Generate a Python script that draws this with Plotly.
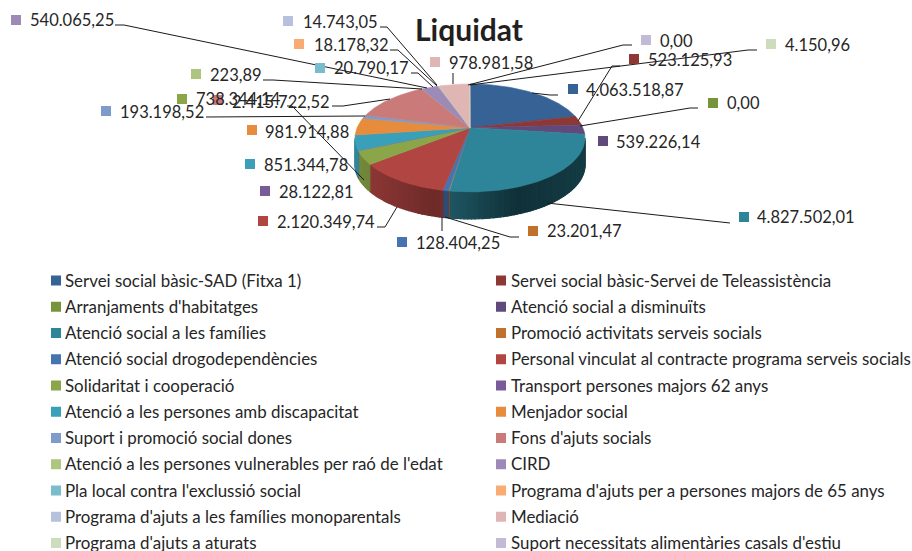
import numpy as np
import plotly.graph_objects as go

title = "Liquidat"
categories = [
    "Servei social bàsic-SAD (Fitxa 1)", "Servei social bàsic-Servei de Teleassistència",
    "Arranjaments d'habitatges", "Atenció social a disminuïts",
    "Atenció social a les famílies", "Promoció activitats serveis socials",
    "Atenció social drogodependències", "Personal vinculat al contracte programa serveis socials",
    "Solidaritat i cooperació", "Transport persones majors 62 anys",
    "Atenció a les persones amb discapacitat", "Menjador social",
    "Suport i promoció social dones", "Fons d'ajuts socials",
    "Atenció a les persones vulnerables per raó de l'edat", "CIRD",
    "Pla local contra l'exclussió social", "Programa d'ajuts per a persones majors de 65 anys",
    "Programa d'ajuts a les famílies monoparentals", "Mediació",
    "Programa d'ajuts a aturats", "Suport necessitats alimentàries casals d'estiu",
]
values = [
    4063518.87, 523125.93, 0.00, 539226.14, 4827502.01, 23201.47, 128404.25, 2120349.74,
    738344.14, 28122.81, 851344.78, 981914.88, 193198.52, 2415722.52, 223.89, 540065.25,
    20790.17, 18178.32, 14743.05, 978981.58, 4150.96, 0.00,
]
colors = [
    "#376296", "#8e3836", "#77933c", "#604a7b", "#2e8599", "#c0722c", "#4674b0", "#b04542",
    "#8aa648", "#7a5b9a", "#3aa0ba", "#e78c3c", "#7f9bc9", "#c97a79", "#aec57f", "#9d8ab7",
    "#78bccd", "#f9ab74", "#b6c1de", "#e0b6b5", "#cddcbc", "#c3bbd5",
]

# Layout (pixels): label anchors, one per category
swatch_xy = [
    (573, 89), (634, 59), (713, 103), (603, 141), (744, 217), (533, 231), (402, 242), (263, 221),
    (182, 99), (265, 191), (250, 164), (252, 130), (106, 111), (218, 100), (196, 74), (16, 20),
    (320, 68), (299, 44), (288, 21), (435, 62), (771, 44), (646, 40),
]
label_xy = [
    (586, 90), (648, 60), (727, 103), (616, 142), (757, 217), (547, 231), (416, 243), (277, 222),
    (196, 99), (279, 192), (264, 165), (265, 132), (120, 112), (232, 102), (210, 75), (30, 20),
    (334, 68), (314, 45), (303, 22), (449, 63), (785, 45), (660, 41),
]
leaders = [
    [(532, 93), (550, 95), (558, 95)],
    [(578, 121), (612, 66), (620, 66)],
    [(580, 126), (690, 108), (698, 108)],
    [(547, 203), (725, 223), (730, 223)],
    [(445, 217), (510, 237), (519, 237)],
    [(442, 217), (442, 231)],
    [(377, 227), (385, 227), (397, 207)],
    [(287, 106), (292, 106), (364, 180)],
    [(206, 117), (365, 116)],
    [(332, 106), (343, 106), (390, 99)],
    [(263, 80), (273, 80), (422, 89)],
    [(115, 25), (124, 25), (427, 88)],
    [(411, 73), (418, 73), (433, 87)],
    [(390, 50), (398, 50), (437, 86)],
    [(380, 27), (387, 27), (437, 85)],
    [(453, 73), (453, 84)],
    [(470, 85), (748, 50), (757, 50)],
    [(468, 85), (623, 45), (632, 45)],
]

FONT = "Lato"
TEXT = "#262626"
APEX_X, APEX_Y = 470.0, 127.7
C, A, K = 112.9, 52.0, -0.19
DEPTH = 27.0


def rim(theta):
    u, v = np.sin(theta), -np.cos(theta)
    w = 1 + K * v
    return APEX_X + C * u / w, APEX_Y + A * v / w


def fmt(v):
    return f"{v:,.2f}".replace(",", "#").replace(".", ",").replace("#", ".")


def shade(hex_color, f):
    r, g, b = (int(hex_color[i:i + 2], 16) for i in (1, 3, 5))
    return f"rgb({int(r * f)},{int(g * f)},{int(b * f)})"


def wall_factor(x):
    return float(np.interp(x, [355, 370, 435, 445, 515, 585], [0.85, 0.80, 0.62, 0.67, 0.37, 0.45]))


fig = go.Figure()


def poly(xs, ys, color, width=0.6):
    fig.add_trace(go.Scatter(
        x=list(xs), y=list(ys), mode="lines", fill="toself", fillcolor=color,
        line=dict(color=color, width=width), hoverinfo="skip", showlegend=False,
    ))


total = sum(values)
edges = np.concatenate([[0.0], np.cumsum(values)]) / total * 2 * np.pi
vis_lo = np.arccos(-0.19)
vis_hi = 2 * np.pi - vis_lo

# Side wall (only the part facing the viewer), drawn as a fine shaded band
for i, col in enumerate(colors):
    lo, hi = max(edges[i], vis_lo), min(edges[i + 1], vis_hi)
    if hi <= lo:
        continue
    n = max(1, int(np.degrees(hi - lo) / 1.5))
    steps = np.linspace(lo, hi, n + 1)
    for a, b in zip(steps[:-1], steps[1:]):
        t = np.linspace(a, b, 3)
        x, y = rim(t)
        c = shade(col, wall_factor(x.mean()))
        poly(np.r_[x, x[::-1], x[0]], np.r_[y, y[::-1] + DEPTH, y[0]], c, width=1.2)

# Top face
for i, col in enumerate(colors):
    lo, hi = edges[i], edges[i + 1]
    if hi <= lo:
        continue
    t = np.linspace(lo, hi, max(3, int(np.degrees(hi - lo)) + 2))
    x, y = rim(t)
    poly(np.r_[APEX_X, x, APEX_X], np.r_[APEX_Y, y, APEX_Y], col)

# Leader lines
lx, ly = [], []
for seg in leaders:
    for p in seg:
        lx.append(p[0]); ly.append(p[1])
    lx.append(None); ly.append(None)
fig.add_trace(go.Scatter(x=lx, y=ly, mode="lines", line=dict(color="#1a1a1a", width=1),
                         hoverinfo="skip", showlegend=False))

# Data label swatches
fig.add_trace(go.Scatter(
    x=[p[0] for p in swatch_xy], y=[p[1] for p in swatch_xy], mode="markers",
    marker=dict(symbol="square", size=10, color=colors, line=dict(width=0)),
    hoverinfo="skip", showlegend=False,
))

# Legend
ROW0, ROW_H = 280.5, 26.25
COL_SW = [56, 501]
COL_TX = [65, 511]
leg_x = [COL_SW[i % 2] for i in range(len(categories))]
leg_y = [ROW0 + (i // 2) * ROW_H for i in range(len(categories))]
fig.add_trace(go.Scatter(
    x=leg_x, y=leg_y, mode="markers",
    marker=dict(symbol="square", size=10, color=colors, line=dict(width=0)),
    hoverinfo="skip", showlegend=False,
))

annotations = [dict(x=469, y=29, text=f"<b>{title}</b>", showarrow=False, xanchor="center",
                    yanchor="middle", font=dict(family=FONT, size=30, color="#231f20"))]
for i, v in enumerate(values):
    annotations.append(dict(x=label_xy[i][0], y=label_xy[i][1], text=fmt(v), showarrow=False,
                            xanchor="left", yanchor="middle", xshift=-2,
                            font=dict(family=FONT, size=16.5, color=TEXT)))
for i, c in enumerate(categories):
    annotations.append(dict(x=COL_TX[i % 2], y=leg_y[i] - 0.5, text=c, showarrow=False,
                            xanchor="left", yanchor="middle", xshift=-2,
                            font=dict(family=FONT, size=16.9, color=TEXT)))

fig.update_layout(
    width=912, height=551, autosize=False, margin=dict(l=0, r=0, t=0, b=0),
    paper_bgcolor="white", plot_bgcolor="white", annotations=annotations,
    xaxis=dict(range=[0, 912], visible=False, fixedrange=True),
    yaxis=dict(range=[551, 0], visible=False, fixedrange=True),
)
fig.write_html("out.html", config={"displayModeBar": False},
               post_script="document.body.style.margin='0';")
